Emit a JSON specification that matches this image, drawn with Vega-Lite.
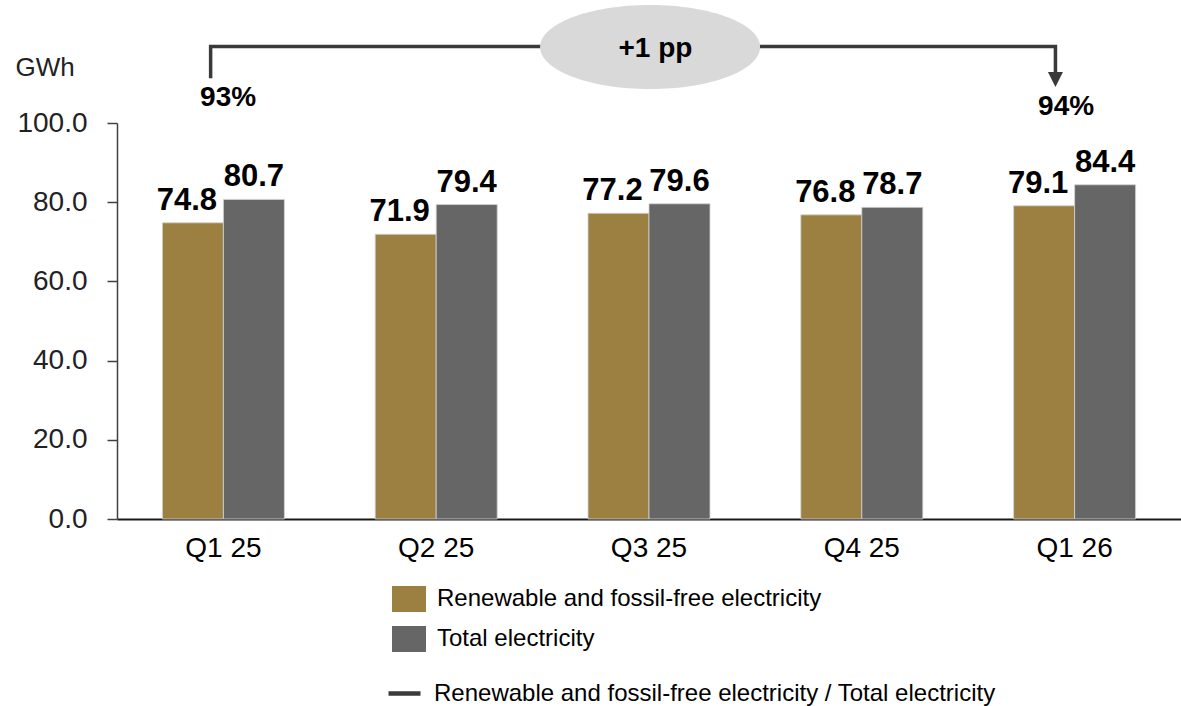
{
  "$schema": "https://vega.github.io/schema/vega-lite/v6.json",
  "width": 1064,
  "height": 396,
  "autosize": {"type": "none"},
  "padding": {"left": 117, "top": 123, "right": 0, "bottom": 187},
  "background": "white",
  "config": {
    "font": "Liberation Sans",
    "view": {"stroke": null},
    "axis": {"grid": false}
  },
  "datasets": {
    "energy": [
      {"quarter": "Q1 25", "series": "Renewable and fossil-free electricity", "value": 74.8},
      {"quarter": "Q1 25", "series": "Total electricity", "value": 80.7},
      {"quarter": "Q2 25", "series": "Renewable and fossil-free electricity", "value": 71.9},
      {"quarter": "Q2 25", "series": "Total electricity", "value": 79.4},
      {"quarter": "Q3 25", "series": "Renewable and fossil-free electricity", "value": 77.2},
      {"quarter": "Q3 25", "series": "Total electricity", "value": 79.6},
      {"quarter": "Q4 25", "series": "Renewable and fossil-free electricity", "value": 76.8},
      {"quarter": "Q4 25", "series": "Total electricity", "value": 78.7},
      {"quarter": "Q1 26", "series": "Renewable and fossil-free electricity", "value": 79.1},
      {"quarter": "Q1 26", "series": "Total electricity", "value": 84.4}
    ],
    "bracket": [
      {"pos": 0.44, "value": 111.3, "seq": 1, "series": "Renewable and fossil-free electricity / Total electricity"},
      {"pos": 0.44, "value": 119.3, "seq": 2, "series": "Renewable and fossil-free electricity / Total electricity"},
      {"pos": 4.41, "value": 119.3, "seq": 3, "series": "Renewable and fossil-free electricity / Total electricity"},
      {"pos": 4.41, "value": 112.5, "seq": 4, "series": "Renewable and fossil-free electricity / Total electricity"}
    ],
    "badge": [{"pos": 2.505, "value": 119.2}],
    "arrow": [{"pos": 4.41, "value": 111.0}],
    "notes": [
      {"pos": 0.522, "value": 104.3, "label": "93%"},
      {"pos": 4.46, "value": 102.0, "label": "94%"},
      {"pos": 2.53, "value": 116.7, "label": "+1 pp"}
    ]
  },
  "encoding": {
    "y": {
      "field": "value",
      "type": "quantitative",
      "scale": {"domain": [0, 100]},
      "axis": {
        "values": [0, 20, 40, 60, 80, 100],
        "format": ".1f",
        "labelFontSize": 28,
        "labelColor": "#222222",
        "labelPadding": 20,
        "tickSize": 10,
        "tickColor": "#404040",
        "tickWidth": 1.5,
        "domainColor": "#404040",
        "domainWidth": 1.5,
        "title": "GWh",
        "titleAngle": 0,
        "titleAlign": "left",
        "titleBaseline": "alphabetic",
        "titleX": -102,
        "titleY": -48,
        "titleFontSize": 26,
        "titleFontWeight": "normal",
        "titleColor": "#222222"
      }
    }
  },
  "layer": [
    {
      "data": {"name": "energy"},
      "encoding": {
        "x": {
          "field": "quarter",
          "type": "nominal",
          "sort": null,
          "scale": {"paddingInner": 0.4267, "paddingOuter": 0.2133},
          "axis": {
            "title": null,
            "labelAngle": 0,
            "labelFontSize": 28,
            "labelColor": "#000000",
            "ticks": false,
            "tickSize": 0,
            "labelPadding": 37,
            "labelBaseline": "alphabetic",
            "domainColor": "#1a1a1a",
            "domainWidth": 2
          }
        },
        "xOffset": {
          "field": "series",
          "type": "nominal",
          "sort": ["Renewable and fossil-free electricity", "Total electricity"],
          "scale": {"paddingInner": 0, "paddingOuter": 0}
        }
      },
      "layer": [
        {
          "mark": {"type": "bar", "stroke": "#d4d4d4", "strokeWidth": 0.8},
          "encoding": {
            "fill": {
              "field": "series",
              "type": "nominal",
              "scale": {
                "domain": ["Renewable and fossil-free electricity", "Total electricity"],
                "range": ["#9b8042", "#666666"]
              },
              "legend": {
                "orient": "none",
                "legendX": 275,
                "legendY": 459,
                "title": null,
                "symbolType": "M-1,-0.765L1,-0.765L1,0.765L-1,0.765Z",
                "symbolSize": 1156,
                "symbolStrokeWidth": 0,
                "symbolOpacity": 1,
                "labelFontSize": 24,
                "labelColor": "#000000",
                "labelOffset": 11,
                "labelLimit": 900,
                "rowPadding": 9,
                "padding": 0
              }
            }
          }
        },
        {
          "transform": [{"filter": "datum.series === 'Renewable and fossil-free electricity'"}],
          "mark": {"type": "text", "dx": -6, "dy": -13, "baseline": "alphabetic", "align": "center", "fontSize": 31, "fontWeight": "bold", "color": "#000000"},
          "encoding": {"text": {"field": "value", "type": "quantitative", "format": ".1f"}}
        },
        {
          "transform": [{"filter": "datum.series === 'Total electricity'"}],
          "mark": {"type": "text", "dy": -13, "baseline": "alphabetic", "align": "center", "fontSize": 31, "fontWeight": "bold", "color": "#000000"},
          "encoding": {"text": {"field": "value", "type": "quantitative", "format": ".1f"}}
        }
      ]
    },
    {
      "encoding": {
        "x": {"field": "pos", "type": "quantitative", "scale": {"domain": [0, 5], "nice": false, "zero": false}, "axis": null}
      },
      "layer": [
        {
          "data": {"name": "bracket"},
          "mark": {"type": "line", "strokeWidth": 3.5, "strokeJoin": "miter", "strokeCap": "butt"},
          "encoding": {
            "order": {"field": "seq", "type": "quantitative"},
            "stroke": {
              "field": "series",
              "type": "nominal",
              "scale": {"range": ["#3a3a3a"]},
              "legend": {
                "orient": "none",
                "legendX": 269,
                "legendY": 552,
                "title": null,
                "symbolType": "stroke",
                "symbolSize": 1024,
                "symbolStrokeWidth": 4.5,
                "labelFontSize": 24,
                "labelColor": "#000000",
                "labelOffset": 11,
                "labelLimit": 900,
                "padding": 0
              }
            }
          }
        },
        {
          "data": {"name": "badge"},
          "mark": {
            "type": "point",
            "shape": "M-1,0C-1,-0.211,-0.5523,-0.382,0,-0.382C0.5523,-0.382,1,-0.211,1,0C1,0.211,0.5523,0.382,0,0.382C-0.5523,0.382,-1,0.211,-1,0Z",
            "size": 48400,
            "filled": true,
            "color": "#d9d9d9",
            "opacity": 1,
            "strokeWidth": 0
          }
        },
        {
          "data": {"name": "arrow"},
          "mark": {
            "type": "point",
            "shape": "M-1,-1L1,-1L0,1Z",
            "size": 225,
            "filled": true,
            "color": "#3a3a3a",
            "opacity": 1,
            "strokeWidth": 0
          }
        },
        {
          "data": {"name": "notes"},
          "mark": {"type": "text", "fontSize": 28, "fontWeight": "bold", "align": "center", "baseline": "alphabetic", "color": "#000000"},
          "encoding": {"text": {"field": "label", "type": "nominal"}}
        }
      ]
    }
  ],
  "resolve": {"scale": {"x": "independent"}}
}
